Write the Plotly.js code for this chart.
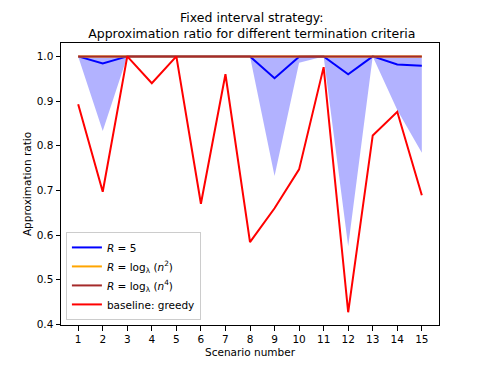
<!DOCTYPE html>
<html>
<head>
<meta charset="utf-8">
<script src="https://cdn.plot.ly/plotly-3.0.1.min.js"></script>
<style>
  html, body { margin: 0; padding: 0; background: #fff; }
  #chart { width: 488px; height: 366px; }
</style>
</head>
<body>
<div id="chart"></div>
<script>
// scenarios 1..15
const scenarios = [1, 2, 3, 4, 5, 6, 7, 8, 9, 10, 11, 12, 13, 14, 15];

// R = 5 (mean line) and the shaded min/max band
const r5Mean = [1.0, 0.984, 1.0, 1.0, 1.0, 1.0, 1.0, 1.0, 0.951, 0.999, 1.0, 0.960, 1.0, 0.982, 0.979];
const r5Min  = [1.0, 0.833, 1.0, 1.0, 1.0, 1.0, 1.0, 1.0, 0.732, 0.986, 1.0, 0.575, 1.0, 0.880, 0.784];
const r5Max  = [1.0, 1.0, 1.0, 1.0, 1.0, 1.0, 1.0, 1.0, 1.0, 1.0, 1.0, 1.0, 1.0, 1.0, 1.0];

// R = log_λ(n^2) and R = log_λ(n^4)
const rLogN2 = [1.0, 1.0, 1.0, 1.0, 1.0, 1.0, 1.0, 1.0, 1.0, 1.0, 1.0, 1.0, 1.0, 1.0, 1.0];
const rLogN4 = [1.0, 1.0, 1.0, 1.0, 1.0, 1.0, 1.0, 1.0, 1.0, 1.0, 1.0, 1.0, 1.0, 1.0, 1.0];

// baseline: greedy
const greedy = [0.893, 0.697, 1.0, 0.940, 1.0, 0.670, 0.960, 0.584, 0.660, 0.747, 0.976, 0.427, 0.823, 0.876, 0.689];

const fnt = 'DejaVu Sans, sans-serif';

const traces = [
  // band: lower edge, then upper edge filled down to it
  { x: scenarios, y: r5Min, type: 'scatter', mode: 'lines', line: { width: 0 },
    showlegend: false, hoverinfo: 'skip' },
  { x: scenarios, y: r5Max, type: 'scatter', mode: 'lines', line: { width: 0 },
    fill: 'tonexty', fillcolor: 'rgba(0,0,255,0.3)', showlegend: false, hoverinfo: 'skip' },
  { x: scenarios, y: r5Mean, type: 'scatter', mode: 'lines', name: '<i>R</i> = 5',
    line: { color: 'blue', width: 2 } },
  { x: scenarios, y: rLogN2, type: 'scatter', mode: 'lines',
    name: '<i>R</i> = log<sub>λ</sub> (<i>n</i><sup>2</sup>)',
    line: { color: 'orange', width: 2 } },
  { x: scenarios, y: rLogN4, type: 'scatter', mode: 'lines',
    name: '<i>R</i> = log<sub>λ</sub> (<i>n</i><sup>4</sup>)',
    line: { color: 'brown', width: 2 } },
  { x: scenarios, y: greedy, type: 'scatter', mode: 'lines', name: 'baseline: greedy',
    line: { color: 'red', width: 2 } }
];

const layout = {
  width: 488,
  height: 366,
  margin: { l: 61, r: 49, t: 43, b: 41 },
  paper_bgcolor: 'white',
  plot_bgcolor: 'white',
  font: { family: fnt, size: 10.5, color: 'black' },
  title: {
    text: 'Fixed interval strategy:<br>Approximation ratio for different termination criteria',
    font: { family: fnt, size: 12.5, color: 'black' },
    x: 0.516, xanchor: 'center', yref: 'container', y: 0.941, yanchor: 'bottom'
  },
  xaxis: {
    range: [0.3, 15.7],
    tickvals: scenarios,
    ticktext: scenarios.map(String),
    ticks: 'outside', ticklen: 4.5, tickcolor: 'black',
    showline: true, linecolor: 'black', linewidth: 1, mirror: true,
    showgrid: false, zeroline: false,
    title: { text: 'Scenario number', font: { family: fnt, size: 10.5 }, standoff: 4 }
  },
  yaxis: {
    range: [0.3985, 1.03],
    tickvals: [0.4, 0.5, 0.6, 0.7, 0.8, 0.9, 1.0],
    ticktext: ['0.4', '0.5', '0.6', '0.7', '0.8', '0.9', '1.0'],
    ticks: 'outside', ticklen: 4.5, tickcolor: 'black',
    showline: true, linecolor: 'black', linewidth: 1, mirror: true,
    showgrid: false, zeroline: false,
    title: { text: 'Approximation ratio', font: { family: fnt, size: 10.5 }, standoff: 3 }
  },
  legend: {
    x: 0.013, y: 0.018, xanchor: 'left', yanchor: 'bottom',
    traceorder: 'normal',
    bgcolor: 'rgba(255,255,255,0.8)', bordercolor: '#cccccc', borderwidth: 1,
    font: { family: fnt, size: 10.5 },
    tracegroupgap: 0
  },
  showlegend: true
};

Plotly.newPlot('chart', traces, layout, { staticPlot: true, displayModeBar: false });
</script>
</body>
</html>
